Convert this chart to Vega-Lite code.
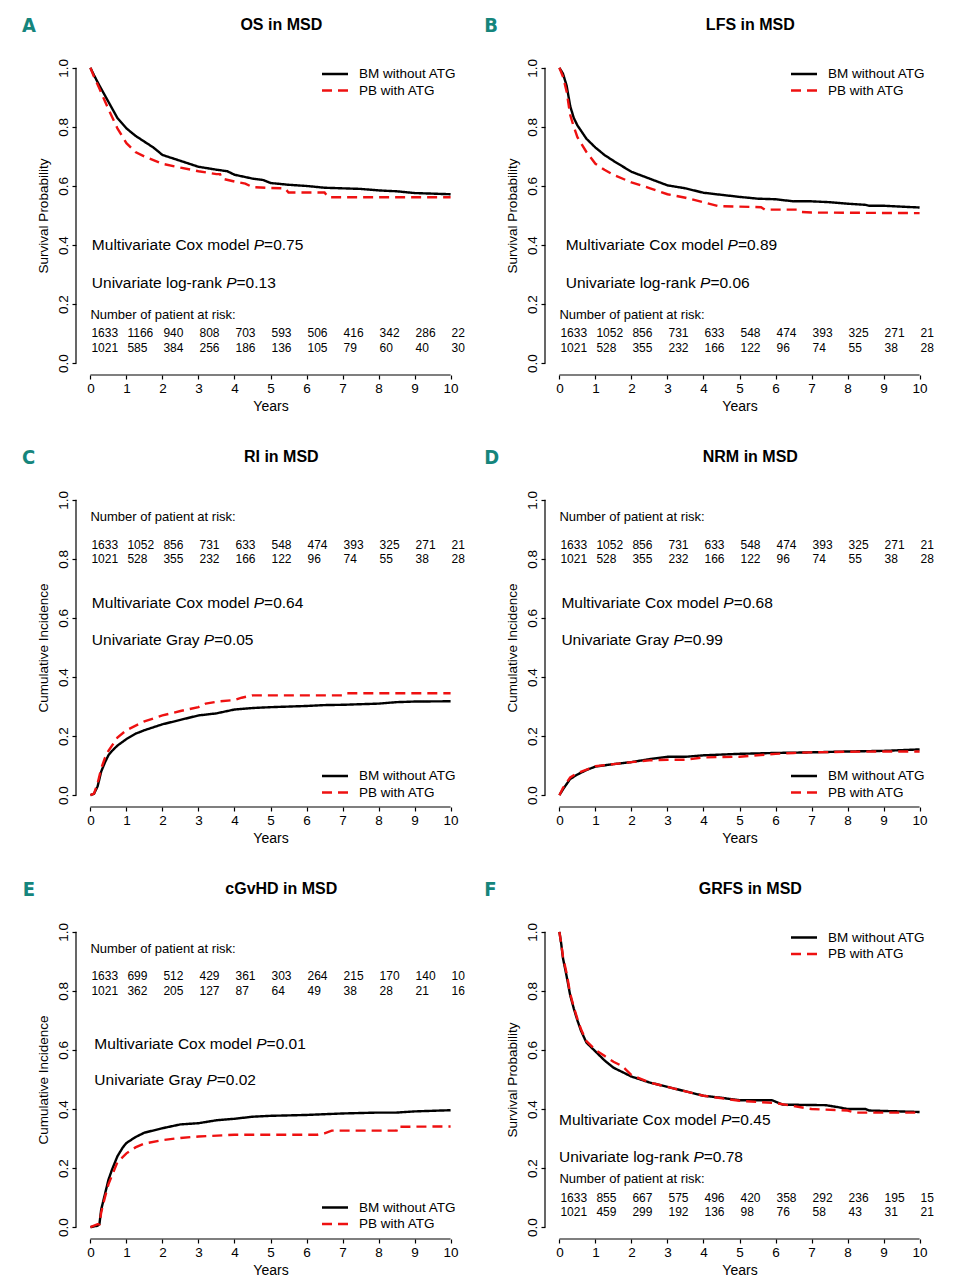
{
"$schema": "https://vega.github.io/schema/vega-lite/v6.json",
"padding": {"left": 22, "top": 16, "right": 5, "bottom": 5},
"background": "white",
"data": {"values": [{}]},
"datasets": {
"curves": [
{"panel":"A","group":"BM without ATG","t":0,"v":1},{"panel":"A","group":"BM without ATG","t":0.1,"v":0.975},{"panel":"A","group":"BM without ATG","t":0.25,"v":0.94},{"panel":"A","group":"BM without ATG","t":0.5,"v":0.885},{"panel":"A","group":"BM without ATG","t":0.75,"v":0.83},{"panel":"A","group":"BM without ATG","t":1,"v":0.795},{"panel":"A","group":"BM without ATG","t":1.25,"v":0.77},{"panel":"A","group":"BM without ATG","t":1.5,"v":0.75},{"panel":"A","group":"BM without ATG","t":1.75,"v":0.73},{"panel":"A","group":"BM without ATG","t":2,"v":0.705},{"panel":"A","group":"BM without ATG","t":2.5,"v":0.685},{"panel":"A","group":"BM without ATG","t":3,"v":0.665},{"panel":"A","group":"BM without ATG","t":3.5,"v":0.655},{"panel":"A","group":"BM without ATG","t":3.8,"v":0.65},{"panel":"A","group":"BM without ATG","t":4,"v":0.638},{"panel":"A","group":"BM without ATG","t":4.5,"v":0.625},{"panel":"A","group":"BM without ATG","t":4.8,"v":0.62},{"panel":"A","group":"BM without ATG","t":5,"v":0.61},{"panel":"A","group":"BM without ATG","t":5.5,"v":0.604},{"panel":"A","group":"BM without ATG","t":6,"v":0.6},{"panel":"A","group":"BM without ATG","t":6.5,"v":0.594},{"panel":"A","group":"BM without ATG","t":7,"v":0.592},{"panel":"A","group":"BM without ATG","t":7.5,"v":0.59},{"panel":"A","group":"BM without ATG","t":8,"v":0.585},{"panel":"A","group":"BM without ATG","t":8.5,"v":0.582},{"panel":"A","group":"BM without ATG","t":9,"v":0.576},{"panel":"A","group":"BM without ATG","t":9.5,"v":0.574},{"panel":"A","group":"BM without ATG","t":10,"v":0.572},
{"panel":"A","group":"PB with ATG","t":0,"v":1},{"panel":"A","group":"PB with ATG","t":0.1,"v":0.97},{"panel":"A","group":"PB with ATG","t":0.25,"v":0.93},{"panel":"A","group":"PB with ATG","t":0.5,"v":0.86},{"panel":"A","group":"PB with ATG","t":0.75,"v":0.795},{"panel":"A","group":"PB with ATG","t":1,"v":0.745},{"panel":"A","group":"PB with ATG","t":1.25,"v":0.715},{"panel":"A","group":"PB with ATG","t":1.5,"v":0.7},{"panel":"A","group":"PB with ATG","t":2,"v":0.675},{"panel":"A","group":"PB with ATG","t":2.5,"v":0.662},{"panel":"A","group":"PB with ATG","t":3,"v":0.65},{"panel":"A","group":"PB with ATG","t":3.5,"v":0.64},{"panel":"A","group":"PB with ATG","t":3.6,"v":0.64},{"panel":"A","group":"PB with ATG","t":3.65,"v":0.625},{"panel":"A","group":"PB with ATG","t":4,"v":0.615},{"panel":"A","group":"PB with ATG","t":4.3,"v":0.608},{"panel":"A","group":"PB with ATG","t":4.5,"v":0.596},{"panel":"A","group":"PB with ATG","t":5,"v":0.593},{"panel":"A","group":"PB with ATG","t":5.4,"v":0.592},{"panel":"A","group":"PB with ATG","t":5.5,"v":0.578},{"panel":"A","group":"PB with ATG","t":6.5,"v":0.578},{"panel":"A","group":"PB with ATG","t":6.6,"v":0.562},{"panel":"A","group":"PB with ATG","t":10,"v":0.562},
{"panel":"B","group":"BM without ATG","t":0,"v":1},{"panel":"B","group":"BM without ATG","t":0.1,"v":0.98},{"panel":"B","group":"BM without ATG","t":0.2,"v":0.94},{"panel":"B","group":"BM without ATG","t":0.3,"v":0.87},{"panel":"B","group":"BM without ATG","t":0.4,"v":0.83},{"panel":"B","group":"BM without ATG","t":0.5,"v":0.805},{"panel":"B","group":"BM without ATG","t":0.75,"v":0.76},{"panel":"B","group":"BM without ATG","t":1,"v":0.73},{"panel":"B","group":"BM without ATG","t":1.25,"v":0.705},{"panel":"B","group":"BM without ATG","t":1.5,"v":0.685},{"panel":"B","group":"BM without ATG","t":2,"v":0.648},{"panel":"B","group":"BM without ATG","t":2.5,"v":0.625},{"panel":"B","group":"BM without ATG","t":3,"v":0.602},{"panel":"B","group":"BM without ATG","t":3.5,"v":0.592},{"panel":"B","group":"BM without ATG","t":4,"v":0.577},{"panel":"B","group":"BM without ATG","t":4.5,"v":0.57},{"panel":"B","group":"BM without ATG","t":5,"v":0.563},{"panel":"B","group":"BM without ATG","t":5.5,"v":0.557},{"panel":"B","group":"BM without ATG","t":6,"v":0.555},{"panel":"B","group":"BM without ATG","t":6.5,"v":0.548},{"panel":"B","group":"BM without ATG","t":7,"v":0.548},{"panel":"B","group":"BM without ATG","t":7.5,"v":0.545},{"panel":"B","group":"BM without ATG","t":8,"v":0.54},{"panel":"B","group":"BM without ATG","t":8.5,"v":0.536},{"panel":"B","group":"BM without ATG","t":8.6,"v":0.533},{"panel":"B","group":"BM without ATG","t":9,"v":0.533},{"panel":"B","group":"BM without ATG","t":9.5,"v":0.53},{"panel":"B","group":"BM without ATG","t":10,"v":0.527},
{"panel":"B","group":"PB with ATG","t":0,"v":1},{"panel":"B","group":"PB with ATG","t":0.1,"v":0.97},{"panel":"B","group":"PB with ATG","t":0.2,"v":0.92},{"panel":"B","group":"PB with ATG","t":0.3,"v":0.84},{"panel":"B","group":"PB with ATG","t":0.4,"v":0.8},{"panel":"B","group":"PB with ATG","t":0.5,"v":0.765},{"panel":"B","group":"PB with ATG","t":0.75,"v":0.715},{"panel":"B","group":"PB with ATG","t":1,"v":0.675},{"panel":"B","group":"PB with ATG","t":1.25,"v":0.655},{"panel":"B","group":"PB with ATG","t":1.5,"v":0.638},{"panel":"B","group":"PB with ATG","t":2,"v":0.612},{"panel":"B","group":"PB with ATG","t":2.5,"v":0.593},{"panel":"B","group":"PB with ATG","t":3,"v":0.572},{"panel":"B","group":"PB with ATG","t":3.5,"v":0.56},{"panel":"B","group":"PB with ATG","t":4,"v":0.545},{"panel":"B","group":"PB with ATG","t":4.4,"v":0.532},{"panel":"B","group":"PB with ATG","t":5,"v":0.53},{"panel":"B","group":"PB with ATG","t":5.6,"v":0.528},{"panel":"B","group":"PB with ATG","t":5.7,"v":0.52},{"panel":"B","group":"PB with ATG","t":6.6,"v":0.52},{"panel":"B","group":"PB with ATG","t":6.7,"v":0.512},{"panel":"B","group":"PB with ATG","t":7,"v":0.51},{"panel":"B","group":"PB with ATG","t":10,"v":0.508},
{"panel":"C","group":"BM without ATG","t":0,"v":0},{"panel":"C","group":"BM without ATG","t":0.1,"v":0.005},{"panel":"C","group":"BM without ATG","t":0.2,"v":0.03},{"panel":"C","group":"BM without ATG","t":0.3,"v":0.08},{"panel":"C","group":"BM without ATG","t":0.4,"v":0.11},{"panel":"C","group":"BM without ATG","t":0.5,"v":0.135},{"panel":"C","group":"BM without ATG","t":0.6,"v":0.15},{"panel":"C","group":"BM without ATG","t":0.75,"v":0.168},{"panel":"C","group":"BM without ATG","t":1,"v":0.19},{"panel":"C","group":"BM without ATG","t":1.25,"v":0.208},{"panel":"C","group":"BM without ATG","t":1.5,"v":0.22},{"panel":"C","group":"BM without ATG","t":2,"v":0.24},{"panel":"C","group":"BM without ATG","t":2.5,"v":0.255},{"panel":"C","group":"BM without ATG","t":3,"v":0.27},{"panel":"C","group":"BM without ATG","t":3.5,"v":0.277},{"panel":"C","group":"BM without ATG","t":4,"v":0.29},{"panel":"C","group":"BM without ATG","t":4.5,"v":0.295},{"panel":"C","group":"BM without ATG","t":5,"v":0.298},{"panel":"C","group":"BM without ATG","t":6,"v":0.302},{"panel":"C","group":"BM without ATG","t":6.5,"v":0.305},{"panel":"C","group":"BM without ATG","t":7,"v":0.306},{"panel":"C","group":"BM without ATG","t":8,"v":0.31},{"panel":"C","group":"BM without ATG","t":8.5,"v":0.315},{"panel":"C","group":"BM without ATG","t":9,"v":0.317},{"panel":"C","group":"BM without ATG","t":10,"v":0.318},
{"panel":"C","group":"PB with ATG","t":0,"v":0},{"panel":"C","group":"PB with ATG","t":0.1,"v":0.005},{"panel":"C","group":"PB with ATG","t":0.2,"v":0.04},{"panel":"C","group":"PB with ATG","t":0.3,"v":0.09},{"panel":"C","group":"PB with ATG","t":0.4,"v":0.125},{"panel":"C","group":"PB with ATG","t":0.5,"v":0.15},{"panel":"C","group":"PB with ATG","t":0.75,"v":0.195},{"panel":"C","group":"PB with ATG","t":1,"v":0.22},{"panel":"C","group":"PB with ATG","t":1.5,"v":0.25},{"panel":"C","group":"PB with ATG","t":2,"v":0.27},{"panel":"C","group":"PB with ATG","t":2.5,"v":0.285},{"panel":"C","group":"PB with ATG","t":3,"v":0.298},{"panel":"C","group":"PB with ATG","t":3.2,"v":0.31},{"panel":"C","group":"PB with ATG","t":3.6,"v":0.318},{"panel":"C","group":"PB with ATG","t":4,"v":0.322},{"panel":"C","group":"PB with ATG","t":4.2,"v":0.33},{"panel":"C","group":"PB with ATG","t":4.5,"v":0.338},{"panel":"C","group":"PB with ATG","t":7,"v":0.338},{"panel":"C","group":"PB with ATG","t":7.1,"v":0.345},{"panel":"C","group":"PB with ATG","t":10,"v":0.345},
{"panel":"D","group":"BM without ATG","t":0,"v":0},{"panel":"D","group":"BM without ATG","t":0.1,"v":0.02},{"panel":"D","group":"BM without ATG","t":0.3,"v":0.055},{"panel":"D","group":"BM without ATG","t":0.5,"v":0.07},{"panel":"D","group":"BM without ATG","t":0.75,"v":0.085},{"panel":"D","group":"BM without ATG","t":1,"v":0.097},{"panel":"D","group":"BM without ATG","t":1.5,"v":0.105},{"panel":"D","group":"BM without ATG","t":2,"v":0.112},{"panel":"D","group":"BM without ATG","t":2.5,"v":0.122},{"panel":"D","group":"BM without ATG","t":3,"v":0.13},{"panel":"D","group":"BM without ATG","t":3.5,"v":0.13},{"panel":"D","group":"BM without ATG","t":4,"v":0.135},{"panel":"D","group":"BM without ATG","t":5,"v":0.14},{"panel":"D","group":"BM without ATG","t":6,"v":0.143},{"panel":"D","group":"BM without ATG","t":7,"v":0.145},{"panel":"D","group":"BM without ATG","t":8,"v":0.148},{"panel":"D","group":"BM without ATG","t":9,"v":0.15},{"panel":"D","group":"BM without ATG","t":10,"v":0.155},
{"panel":"D","group":"PB with ATG","t":0,"v":0},{"panel":"D","group":"PB with ATG","t":0.1,"v":0.025},{"panel":"D","group":"PB with ATG","t":0.3,"v":0.06},{"panel":"D","group":"PB with ATG","t":0.5,"v":0.075},{"panel":"D","group":"PB with ATG","t":1,"v":0.098},{"panel":"D","group":"PB with ATG","t":1.5,"v":0.105},{"panel":"D","group":"PB with ATG","t":2,"v":0.112},{"panel":"D","group":"PB with ATG","t":2.5,"v":0.118},{"panel":"D","group":"PB with ATG","t":3,"v":0.12},{"panel":"D","group":"PB with ATG","t":3.5,"v":0.12},{"panel":"D","group":"PB with ATG","t":4,"v":0.128},{"panel":"D","group":"PB with ATG","t":5,"v":0.13},{"panel":"D","group":"PB with ATG","t":5.5,"v":0.135},{"panel":"D","group":"PB with ATG","t":6,"v":0.14},{"panel":"D","group":"PB with ATG","t":6.5,"v":0.143},{"panel":"D","group":"PB with ATG","t":7,"v":0.145},{"panel":"D","group":"PB with ATG","t":8,"v":0.147},{"panel":"D","group":"PB with ATG","t":9,"v":0.148},{"panel":"D","group":"PB with ATG","t":10,"v":0.148},
{"panel":"E","group":"BM without ATG","t":0,"v":0},{"panel":"E","group":"BM without ATG","t":0.2,"v":0.005},{"panel":"E","group":"BM without ATG","t":0.25,"v":0.01},{"panel":"E","group":"BM without ATG","t":0.3,"v":0.06},{"panel":"E","group":"BM without ATG","t":0.4,"v":0.11},{"panel":"E","group":"BM without ATG","t":0.5,"v":0.16},{"panel":"E","group":"BM without ATG","t":0.6,"v":0.195},{"panel":"E","group":"BM without ATG","t":0.75,"v":0.24},{"panel":"E","group":"BM without ATG","t":0.9,"v":0.27},{"panel":"E","group":"BM without ATG","t":1,"v":0.285},{"panel":"E","group":"BM without ATG","t":1.25,"v":0.305},{"panel":"E","group":"BM without ATG","t":1.5,"v":0.32},{"panel":"E","group":"BM without ATG","t":2,"v":0.335},{"panel":"E","group":"BM without ATG","t":2.5,"v":0.348},{"panel":"E","group":"BM without ATG","t":3,"v":0.352},{"panel":"E","group":"BM without ATG","t":3.5,"v":0.362},{"panel":"E","group":"BM without ATG","t":4,"v":0.367},{"panel":"E","group":"BM without ATG","t":4.5,"v":0.374},{"panel":"E","group":"BM without ATG","t":5,"v":0.377},{"panel":"E","group":"BM without ATG","t":6,"v":0.38},{"panel":"E","group":"BM without ATG","t":7,"v":0.385},{"panel":"E","group":"BM without ATG","t":8,"v":0.388},{"panel":"E","group":"BM without ATG","t":8.5,"v":0.388},{"panel":"E","group":"BM without ATG","t":9,"v":0.392},{"panel":"E","group":"BM without ATG","t":10,"v":0.396},
{"panel":"E","group":"PB with ATG","t":0,"v":0},{"panel":"E","group":"PB with ATG","t":0.2,"v":0.01},{"panel":"E","group":"PB with ATG","t":0.25,"v":0.01},{"panel":"E","group":"PB with ATG","t":0.3,"v":0.05},{"panel":"E","group":"PB with ATG","t":0.4,"v":0.1},{"panel":"E","group":"PB with ATG","t":0.5,"v":0.145},{"panel":"E","group":"PB with ATG","t":0.75,"v":0.22},{"panel":"E","group":"PB with ATG","t":1,"v":0.25},{"panel":"E","group":"PB with ATG","t":1.25,"v":0.27},{"panel":"E","group":"PB with ATG","t":1.5,"v":0.283},{"panel":"E","group":"PB with ATG","t":2,"v":0.295},{"panel":"E","group":"PB with ATG","t":2.5,"v":0.302},{"panel":"E","group":"PB with ATG","t":3,"v":0.307},{"panel":"E","group":"PB with ATG","t":4,"v":0.313},{"panel":"E","group":"PB with ATG","t":5,"v":0.313},{"panel":"E","group":"PB with ATG","t":6.3,"v":0.313},{"panel":"E","group":"PB with ATG","t":6.5,"v":0.318},{"panel":"E","group":"PB with ATG","t":6.7,"v":0.327},{"panel":"E","group":"PB with ATG","t":8.5,"v":0.327},{"panel":"E","group":"PB with ATG","t":8.52,"v":0.34},{"panel":"E","group":"PB with ATG","t":10,"v":0.341},
{"panel":"F","group":"BM without ATG","t":0,"v":1},{"panel":"F","group":"BM without ATG","t":0.05,"v":0.96},{"panel":"F","group":"BM without ATG","t":0.1,"v":0.91},{"panel":"F","group":"BM without ATG","t":0.2,"v":0.85},{"panel":"F","group":"BM without ATG","t":0.3,"v":0.785},{"panel":"F","group":"BM without ATG","t":0.4,"v":0.74},{"panel":"F","group":"BM without ATG","t":0.5,"v":0.7},{"panel":"F","group":"BM without ATG","t":0.6,"v":0.665},{"panel":"F","group":"BM without ATG","t":0.75,"v":0.625},{"panel":"F","group":"BM without ATG","t":1,"v":0.595},{"panel":"F","group":"BM without ATG","t":1.25,"v":0.565},{"panel":"F","group":"BM without ATG","t":1.5,"v":0.54},{"panel":"F","group":"BM without ATG","t":2,"v":0.51},{"panel":"F","group":"BM without ATG","t":2.5,"v":0.49},{"panel":"F","group":"BM without ATG","t":3,"v":0.475},{"panel":"F","group":"BM without ATG","t":3.5,"v":0.46},{"panel":"F","group":"BM without ATG","t":4,"v":0.445},{"panel":"F","group":"BM without ATG","t":4.5,"v":0.438},{"panel":"F","group":"BM without ATG","t":5,"v":0.43},{"panel":"F","group":"BM without ATG","t":5.9,"v":0.43},{"panel":"F","group":"BM without ATG","t":6.2,"v":0.415},{"panel":"F","group":"BM without ATG","t":7.4,"v":0.413},{"panel":"F","group":"BM without ATG","t":7.8,"v":0.405},{"panel":"F","group":"BM without ATG","t":8,"v":0.4},{"panel":"F","group":"BM without ATG","t":8.5,"v":0.4},{"panel":"F","group":"BM without ATG","t":8.6,"v":0.395},{"panel":"F","group":"BM without ATG","t":10,"v":0.39},
{"panel":"F","group":"PB with ATG","t":0,"v":1},{"panel":"F","group":"PB with ATG","t":0.05,"v":0.96},{"panel":"F","group":"PB with ATG","t":0.1,"v":0.915},{"panel":"F","group":"PB with ATG","t":0.2,"v":0.86},{"panel":"F","group":"PB with ATG","t":0.3,"v":0.79},{"panel":"F","group":"PB with ATG","t":0.4,"v":0.745},{"panel":"F","group":"PB with ATG","t":0.5,"v":0.705},{"panel":"F","group":"PB with ATG","t":0.6,"v":0.67},{"panel":"F","group":"PB with ATG","t":0.75,"v":0.63},{"panel":"F","group":"PB with ATG","t":1,"v":0.6},{"panel":"F","group":"PB with ATG","t":1.25,"v":0.58},{"panel":"F","group":"PB with ATG","t":1.5,"v":0.56},{"panel":"F","group":"PB with ATG","t":1.75,"v":0.545},{"panel":"F","group":"PB with ATG","t":2,"v":0.515},{"panel":"F","group":"PB with ATG","t":2.5,"v":0.49},{"panel":"F","group":"PB with ATG","t":3,"v":0.475},{"panel":"F","group":"PB with ATG","t":3.5,"v":0.46},{"panel":"F","group":"PB with ATG","t":4,"v":0.445},{"panel":"F","group":"PB with ATG","t":5,"v":0.428},{"panel":"F","group":"PB with ATG","t":6,"v":0.42},{"panel":"F","group":"PB with ATG","t":6.5,"v":0.41},{"panel":"F","group":"PB with ATG","t":7,"v":0.4},{"panel":"F","group":"PB with ATG","t":8,"v":0.395},{"panel":"F","group":"PB with ATG","t":8.2,"v":0.388},{"panel":"F","group":"PB with ATG","t":10,"v":0.388}
],
"notes": [
{"panel":"A","kind":"title","x":5.3,"y":1.146,"text":"OS in MSD"},
{"panel":"A","kind":"letter","x":-1.897,"y":1.14,"text":"A"},
{"panel":"A","kind":"note","x":0.04,"y":0.4,"text":"Multivariate Cox model"},
{"panel":"A","kind":"p","x":4.535,"y":0.4,"text":"P"},
{"panel":"A","kind":"note","x":4.822,"y":0.4,"text":"=0.75"},
{"panel":"A","kind":"note","x":0.04,"y":0.273,"text":"Univariate log-rank"},
{"panel":"A","kind":"p","x":3.771,"y":0.273,"text":"P"},
{"panel":"A","kind":"note","x":4.058,"y":0.273,"text":"=0.13"},
{"panel":"A","kind":"head","x":0,"y":0.164,"text":"Number of patient at risk:"},
{"panel":"B","kind":"title","x":5.3,"y":1.146,"text":"LFS in MSD"},
{"panel":"B","kind":"letter","x":-2.09,"y":1.14,"text":"B"},
{"panel":"B","kind":"note","x":0.175,"y":0.399,"text":"Multivariate Cox model"},
{"panel":"B","kind":"p","x":4.67,"y":0.399,"text":"P"},
{"panel":"B","kind":"note","x":4.957,"y":0.399,"text":"=0.89"},
{"panel":"B","kind":"note","x":0.175,"y":0.273,"text":"Univariate log-rank"},
{"panel":"B","kind":"p","x":3.906,"y":0.273,"text":"P"},
{"panel":"B","kind":"note","x":4.193,"y":0.273,"text":"=0.06"},
{"panel":"B","kind":"head","x":0,"y":0.164,"text":"Number of patient at risk:"},
{"panel":"C","kind":"title","x":5.3,"y":1.146,"text":"RI in MSD"},
{"panel":"C","kind":"letter","x":-1.897,"y":1.14,"text":"C"},
{"panel":"C","kind":"note","x":0.04,"y":0.65,"text":"Multivariate Cox model"},
{"panel":"C","kind":"p","x":4.535,"y":0.65,"text":"P"},
{"panel":"C","kind":"note","x":4.822,"y":0.65,"text":"=0.64"},
{"panel":"C","kind":"note","x":0.04,"y":0.525,"text":"Univariate Gray"},
{"panel":"C","kind":"p","x":3.15,"y":0.525,"text":"P"},
{"panel":"C","kind":"note","x":3.437,"y":0.525,"text":"=0.05"},
{"panel":"C","kind":"head","x":0,"y":0.943,"text":"Number of patient at risk:"},
{"panel":"D","kind":"title","x":5.3,"y":1.146,"text":"NRM in MSD"},
{"panel":"D","kind":"letter","x":-2.09,"y":1.14,"text":"D"},
{"panel":"D","kind":"note","x":0.055,"y":0.65,"text":"Multivariate Cox model"},
{"panel":"D","kind":"p","x":4.55,"y":0.65,"text":"P"},
{"panel":"D","kind":"note","x":4.837,"y":0.65,"text":"=0.68"},
{"panel":"D","kind":"note","x":0.055,"y":0.525,"text":"Univariate Gray"},
{"panel":"D","kind":"p","x":3.165,"y":0.525,"text":"P"},
{"panel":"D","kind":"note","x":3.452,"y":0.525,"text":"=0.99"},
{"panel":"D","kind":"head","x":0,"y":0.943,"text":"Number of patient at risk:"},
{"panel":"E","kind":"title","x":5.3,"y":1.146,"text":"cGvHD in MSD"},
{"panel":"E","kind":"letter","x":-1.88,"y":1.14,"text":"E"},
{"panel":"E","kind":"note","x":0.11,"y":0.621,"text":"Multivariate Cox model"},
{"panel":"E","kind":"p","x":4.605,"y":0.621,"text":"P"},
{"panel":"E","kind":"note","x":4.892,"y":0.621,"text":"=0.01"},
{"panel":"E","kind":"note","x":0.11,"y":0.497,"text":"Univariate Gray"},
{"panel":"E","kind":"p","x":3.22,"y":0.497,"text":"P"},
{"panel":"E","kind":"note","x":3.507,"y":0.497,"text":"=0.02"},
{"panel":"E","kind":"head","x":0,"y":0.942,"text":"Number of patient at risk:"},
{"panel":"F","kind":"title","x":5.3,"y":1.146,"text":"GRFS in MSD"},
{"panel":"F","kind":"letter","x":-2.09,"y":1.14,"text":"F"},
{"panel":"F","kind":"note","x":-0.01,"y":0.364,"text":"Multivariate Cox model"},
{"panel":"F","kind":"p","x":4.485,"y":0.364,"text":"P"},
{"panel":"F","kind":"note","x":4.772,"y":0.364,"text":"=0.45"},
{"panel":"F","kind":"note","x":-0.01,"y":0.237,"text":"Univariate log-rank"},
{"panel":"F","kind":"p","x":3.721,"y":0.237,"text":"P"},
{"panel":"F","kind":"note","x":4.008,"y":0.237,"text":"=0.78"},
{"panel":"F","kind":"head","x":0,"y":0.163,"text":"Number of patient at risk:"}
],
"risk": [
{"panel":"A","t":0,"y":0.102,"n":"1633"},{"panel":"A","t":1,"y":0.102,"n":"1166"},{"panel":"A","t":2,"y":0.102,"n":"940"},{"panel":"A","t":3,"y":0.102,"n":"808"},{"panel":"A","t":4,"y":0.102,"n":"703"},{"panel":"A","t":5,"y":0.102,"n":"593"},{"panel":"A","t":6,"y":0.102,"n":"506"},{"panel":"A","t":7,"y":0.102,"n":"416"},{"panel":"A","t":8,"y":0.102,"n":"342"},{"panel":"A","t":9,"y":0.102,"n":"286"},{"panel":"A","t":10,"y":0.102,"n":"22"},
{"panel":"A","t":0,"y":0.051,"n":"1021"},{"panel":"A","t":1,"y":0.051,"n":"585"},{"panel":"A","t":2,"y":0.051,"n":"384"},{"panel":"A","t":3,"y":0.051,"n":"256"},{"panel":"A","t":4,"y":0.051,"n":"186"},{"panel":"A","t":5,"y":0.051,"n":"136"},{"panel":"A","t":6,"y":0.051,"n":"105"},{"panel":"A","t":7,"y":0.051,"n":"79"},{"panel":"A","t":8,"y":0.051,"n":"60"},{"panel":"A","t":9,"y":0.051,"n":"40"},{"panel":"A","t":10,"y":0.051,"n":"30"},
{"panel":"B","t":0,"y":0.102,"n":"1633"},{"panel":"B","t":1,"y":0.102,"n":"1052"},{"panel":"B","t":2,"y":0.102,"n":"856"},{"panel":"B","t":3,"y":0.102,"n":"731"},{"panel":"B","t":4,"y":0.102,"n":"633"},{"panel":"B","t":5,"y":0.102,"n":"548"},{"panel":"B","t":6,"y":0.102,"n":"474"},{"panel":"B","t":7,"y":0.102,"n":"393"},{"panel":"B","t":8,"y":0.102,"n":"325"},{"panel":"B","t":9,"y":0.102,"n":"271"},{"panel":"B","t":10,"y":0.102,"n":"21"},
{"panel":"B","t":0,"y":0.051,"n":"1021"},{"panel":"B","t":1,"y":0.051,"n":"528"},{"panel":"B","t":2,"y":0.051,"n":"355"},{"panel":"B","t":3,"y":0.051,"n":"232"},{"panel":"B","t":4,"y":0.051,"n":"166"},{"panel":"B","t":5,"y":0.051,"n":"122"},{"panel":"B","t":6,"y":0.051,"n":"96"},{"panel":"B","t":7,"y":0.051,"n":"74"},{"panel":"B","t":8,"y":0.051,"n":"55"},{"panel":"B","t":9,"y":0.051,"n":"38"},{"panel":"B","t":10,"y":0.051,"n":"28"},
{"panel":"C","t":0,"y":0.847,"n":"1633"},{"panel":"C","t":1,"y":0.847,"n":"1052"},{"panel":"C","t":2,"y":0.847,"n":"856"},{"panel":"C","t":3,"y":0.847,"n":"731"},{"panel":"C","t":4,"y":0.847,"n":"633"},{"panel":"C","t":5,"y":0.847,"n":"548"},{"panel":"C","t":6,"y":0.847,"n":"474"},{"panel":"C","t":7,"y":0.847,"n":"393"},{"panel":"C","t":8,"y":0.847,"n":"325"},{"panel":"C","t":9,"y":0.847,"n":"271"},{"panel":"C","t":10,"y":0.847,"n":"21"},
{"panel":"C","t":0,"y":0.799,"n":"1021"},{"panel":"C","t":1,"y":0.799,"n":"528"},{"panel":"C","t":2,"y":0.799,"n":"355"},{"panel":"C","t":3,"y":0.799,"n":"232"},{"panel":"C","t":4,"y":0.799,"n":"166"},{"panel":"C","t":5,"y":0.799,"n":"122"},{"panel":"C","t":6,"y":0.799,"n":"96"},{"panel":"C","t":7,"y":0.799,"n":"74"},{"panel":"C","t":8,"y":0.799,"n":"55"},{"panel":"C","t":9,"y":0.799,"n":"38"},{"panel":"C","t":10,"y":0.799,"n":"28"},
{"panel":"D","t":0,"y":0.847,"n":"1633"},{"panel":"D","t":1,"y":0.847,"n":"1052"},{"panel":"D","t":2,"y":0.847,"n":"856"},{"panel":"D","t":3,"y":0.847,"n":"731"},{"panel":"D","t":4,"y":0.847,"n":"633"},{"panel":"D","t":5,"y":0.847,"n":"548"},{"panel":"D","t":6,"y":0.847,"n":"474"},{"panel":"D","t":7,"y":0.847,"n":"393"},{"panel":"D","t":8,"y":0.847,"n":"325"},{"panel":"D","t":9,"y":0.847,"n":"271"},{"panel":"D","t":10,"y":0.847,"n":"21"},
{"panel":"D","t":0,"y":0.799,"n":"1021"},{"panel":"D","t":1,"y":0.799,"n":"528"},{"panel":"D","t":2,"y":0.799,"n":"355"},{"panel":"D","t":3,"y":0.799,"n":"232"},{"panel":"D","t":4,"y":0.799,"n":"166"},{"panel":"D","t":5,"y":0.799,"n":"122"},{"panel":"D","t":6,"y":0.799,"n":"96"},{"panel":"D","t":7,"y":0.799,"n":"74"},{"panel":"D","t":8,"y":0.799,"n":"55"},{"panel":"D","t":9,"y":0.799,"n":"38"},{"panel":"D","t":10,"y":0.799,"n":"28"},
{"panel":"E","t":0,"y":0.85,"n":"1633"},{"panel":"E","t":1,"y":0.85,"n":"699"},{"panel":"E","t":2,"y":0.85,"n":"512"},{"panel":"E","t":3,"y":0.85,"n":"429"},{"panel":"E","t":4,"y":0.85,"n":"361"},{"panel":"E","t":5,"y":0.85,"n":"303"},{"panel":"E","t":6,"y":0.85,"n":"264"},{"panel":"E","t":7,"y":0.85,"n":"215"},{"panel":"E","t":8,"y":0.85,"n":"170"},{"panel":"E","t":9,"y":0.85,"n":"140"},{"panel":"E","t":10,"y":0.85,"n":"10"},
{"panel":"E","t":0,"y":0.799,"n":"1021"},{"panel":"E","t":1,"y":0.799,"n":"362"},{"panel":"E","t":2,"y":0.799,"n":"205"},{"panel":"E","t":3,"y":0.799,"n":"127"},{"panel":"E","t":4,"y":0.799,"n":"87"},{"panel":"E","t":5,"y":0.799,"n":"64"},{"panel":"E","t":6,"y":0.799,"n":"49"},{"panel":"E","t":7,"y":0.799,"n":"38"},{"panel":"E","t":8,"y":0.799,"n":"28"},{"panel":"E","t":9,"y":0.799,"n":"21"},{"panel":"E","t":10,"y":0.799,"n":"16"},
{"panel":"F","t":0,"y":0.098,"n":"1633"},{"panel":"F","t":1,"y":0.098,"n":"855"},{"panel":"F","t":2,"y":0.098,"n":"667"},{"panel":"F","t":3,"y":0.098,"n":"575"},{"panel":"F","t":4,"y":0.098,"n":"496"},{"panel":"F","t":5,"y":0.098,"n":"420"},{"panel":"F","t":6,"y":0.098,"n":"358"},{"panel":"F","t":7,"y":0.098,"n":"292"},{"panel":"F","t":8,"y":0.098,"n":"236"},{"panel":"F","t":9,"y":0.098,"n":"195"},{"panel":"F","t":10,"y":0.098,"n":"15"},
{"panel":"F","t":0,"y":0.05,"n":"1021"},{"panel":"F","t":1,"y":0.05,"n":"459"},{"panel":"F","t":2,"y":0.05,"n":"299"},{"panel":"F","t":3,"y":0.05,"n":"192"},{"panel":"F","t":4,"y":0.05,"n":"136"},{"panel":"F","t":5,"y":0.05,"n":"98"},{"panel":"F","t":6,"y":0.05,"n":"76"},{"panel":"F","t":7,"y":0.05,"n":"58"},{"panel":"F","t":8,"y":0.05,"n":"43"},{"panel":"F","t":9,"y":0.05,"n":"31"},{"panel":"F","t":10,"y":0.05,"n":"21"}
]
},
"columns": 2,
"spacing": {"row": 113, "column": 80},
"bounds": "flush",
"resolve": {"scale": {"color": "independent", "strokeDash": "independent"}},
"concat": [
{"width": 389, "height": 319, "layer": [
 {"data": {"name": "curves"}, "transform": [{"filter": "datum.panel === 'A'"}], "mark": {"type": "line", "strokeWidth": 2.4},
  "encoding": {"x": {"field": "t", "type": "quantitative", "scale": {"domain": [-0.4, 10.4], "nice": false, "zero": false}, "axis": {"values": [0,1,2,3,4,5,6,7,8,9,10], "tickCount": 30, "format": "d", "labelOverlap": false, "title": "Years"}},
   "y": {"field": "v", "type": "quantitative", "scale": {"domain": [-0.04, 1.04], "nice": false, "zero": false}, "axis": {"values": [0,0.2,0.4,0.6,0.8,1], "tickCount": 30, "labelOverlap": false, "format": ".1f", "title": "Survival Probability"}},
   "color": {"field": "group", "type": "nominal", "scale": {"domain": ["BM without ATG", "PB with ATG"], "range": ["#000000", "#ee1111"]}, "legend": {"orient": "none", "legendX": 246, "legendY": 10, "title": null}},
   "strokeDash": {"field": "group", "type": "nominal", "scale": {"domain": ["BM without ATG", "PB with ATG"], "range": [[1, 0], [10, 6]]}, "legend": {"orient": "none", "legendX": 246, "legendY": 10, "title": null}}}},
 {"mark": {"type": "rule", "strokeWidth": 1.2, "color": "#000000"}, "encoding": {"x": {"datum": 0, "type": "quantitative"}, "x2": {"datum": 10}, "y": {"datum": -0.04, "type": "quantitative"}}},
 {"mark": {"type": "rule", "strokeWidth": 1.2, "color": "#000000"}, "encoding": {"x": {"datum": -0.4, "type": "quantitative"}, "y": {"datum": 0, "type": "quantitative"}, "y2": {"datum": 1}}},
 {"data": {"name": "notes"}, "transform": [{"filter": "datum.panel === 'A' && datum.kind === 'title'"}], "mark": {"type": "text", "align": "center", "baseline": "middle", "fontSize": 16, "fontWeight": "bold"}, "encoding": {"x": {"field": "x", "type": "quantitative"}, "y": {"field": "y", "type": "quantitative"}, "text": {"field": "text"}}},
 {"data": {"name": "notes"}, "transform": [{"filter": "datum.panel === 'A' && datum.kind === 'letter'"}], "mark": {"type": "text", "align": "left", "baseline": "middle", "fontSize": 20, "fontWeight": "bold", "font": "Liberation Sans Narrow, DejaVu Sans Condensed, Liberation Sans", "color": "#15857c"}, "encoding": {"x": {"field": "x", "type": "quantitative"}, "y": {"field": "y", "type": "quantitative"}, "text": {"field": "text"}}},
 {"data": {"name": "notes"}, "transform": [{"filter": "datum.panel === 'A' && datum.kind === 'note'"}], "mark": {"type": "text", "align": "left", "baseline": "middle", "fontSize": 15.5}, "encoding": {"x": {"field": "x", "type": "quantitative"}, "y": {"field": "y", "type": "quantitative"}, "text": {"field": "text"}}},
 {"data": {"name": "notes"}, "transform": [{"filter": "datum.panel === 'A' && datum.kind === 'p'"}], "mark": {"type": "text", "align": "left", "baseline": "middle", "fontSize": 15.5, "fontStyle": "italic"}, "encoding": {"x": {"field": "x", "type": "quantitative"}, "y": {"field": "y", "type": "quantitative"}, "text": {"field": "text"}}},
 {"data": {"name": "notes"}, "transform": [{"filter": "datum.panel === 'A' && datum.kind === 'head'"}], "mark": {"type": "text", "align": "left", "baseline": "middle", "fontSize": 13}, "encoding": {"x": {"field": "x", "type": "quantitative"}, "y": {"field": "y", "type": "quantitative"}, "text": {"field": "text"}}},
 {"data": {"name": "risk"}, "transform": [{"filter": "datum.panel === 'A'"}], "mark": {"type": "text", "align": "left", "baseline": "middle", "fontSize": 12, "dx": 1}, "encoding": {"x": {"field": "t", "type": "quantitative"}, "y": {"field": "y", "type": "quantitative"}, "text": {"field": "n"}}}
]},
{"width": 389, "height": 319, "layer": [
 {"data": {"name": "curves"}, "transform": [{"filter": "datum.panel === 'B'"}], "mark": {"type": "line", "strokeWidth": 2.4},
  "encoding": {"x": {"field": "t", "type": "quantitative", "scale": {"domain": [-0.4, 10.4], "nice": false, "zero": false}, "axis": {"values": [0,1,2,3,4,5,6,7,8,9,10], "tickCount": 30, "format": "d", "labelOverlap": false, "title": "Years"}},
   "y": {"field": "v", "type": "quantitative", "scale": {"domain": [-0.04, 1.04], "nice": false, "zero": false}, "axis": {"values": [0,0.2,0.4,0.6,0.8,1], "tickCount": 30, "labelOverlap": false, "format": ".1f", "title": "Survival Probability"}},
   "color": {"field": "group", "type": "nominal", "scale": {"domain": ["BM without ATG", "PB with ATG"], "range": ["#000000", "#ee1111"]}, "legend": {"orient": "none", "legendX": 246, "legendY": 10, "title": null}},
   "strokeDash": {"field": "group", "type": "nominal", "scale": {"domain": ["BM without ATG", "PB with ATG"], "range": [[1, 0], [10, 6]]}, "legend": {"orient": "none", "legendX": 246, "legendY": 10, "title": null}}}},
 {"mark": {"type": "rule", "strokeWidth": 1.2, "color": "#000000"}, "encoding": {"x": {"datum": 0, "type": "quantitative"}, "x2": {"datum": 10}, "y": {"datum": -0.04, "type": "quantitative"}}},
 {"mark": {"type": "rule", "strokeWidth": 1.2, "color": "#000000"}, "encoding": {"x": {"datum": -0.4, "type": "quantitative"}, "y": {"datum": 0, "type": "quantitative"}, "y2": {"datum": 1}}},
 {"data": {"name": "notes"}, "transform": [{"filter": "datum.panel === 'B' && datum.kind === 'title'"}], "mark": {"type": "text", "align": "center", "baseline": "middle", "fontSize": 16, "fontWeight": "bold"}, "encoding": {"x": {"field": "x", "type": "quantitative"}, "y": {"field": "y", "type": "quantitative"}, "text": {"field": "text"}}},
 {"data": {"name": "notes"}, "transform": [{"filter": "datum.panel === 'B' && datum.kind === 'letter'"}], "mark": {"type": "text", "align": "left", "baseline": "middle", "fontSize": 20, "fontWeight": "bold", "font": "Liberation Sans Narrow, DejaVu Sans Condensed, Liberation Sans", "color": "#15857c"}, "encoding": {"x": {"field": "x", "type": "quantitative"}, "y": {"field": "y", "type": "quantitative"}, "text": {"field": "text"}}},
 {"data": {"name": "notes"}, "transform": [{"filter": "datum.panel === 'B' && datum.kind === 'note'"}], "mark": {"type": "text", "align": "left", "baseline": "middle", "fontSize": 15.5}, "encoding": {"x": {"field": "x", "type": "quantitative"}, "y": {"field": "y", "type": "quantitative"}, "text": {"field": "text"}}},
 {"data": {"name": "notes"}, "transform": [{"filter": "datum.panel === 'B' && datum.kind === 'p'"}], "mark": {"type": "text", "align": "left", "baseline": "middle", "fontSize": 15.5, "fontStyle": "italic"}, "encoding": {"x": {"field": "x", "type": "quantitative"}, "y": {"field": "y", "type": "quantitative"}, "text": {"field": "text"}}},
 {"data": {"name": "notes"}, "transform": [{"filter": "datum.panel === 'B' && datum.kind === 'head'"}], "mark": {"type": "text", "align": "left", "baseline": "middle", "fontSize": 13}, "encoding": {"x": {"field": "x", "type": "quantitative"}, "y": {"field": "y", "type": "quantitative"}, "text": {"field": "text"}}},
 {"data": {"name": "risk"}, "transform": [{"filter": "datum.panel === 'B'"}], "mark": {"type": "text", "align": "left", "baseline": "middle", "fontSize": 12, "dx": 1}, "encoding": {"x": {"field": "t", "type": "quantitative"}, "y": {"field": "y", "type": "quantitative"}, "text": {"field": "n"}}}
]},
{"width": 389, "height": 319, "layer": [
 {"data": {"name": "curves"}, "transform": [{"filter": "datum.panel === 'C'"}], "mark": {"type": "line", "strokeWidth": 2.4},
  "encoding": {"x": {"field": "t", "type": "quantitative", "scale": {"domain": [-0.4, 10.4], "nice": false, "zero": false}, "axis": {"values": [0,1,2,3,4,5,6,7,8,9,10], "tickCount": 30, "format": "d", "labelOverlap": false, "title": "Years"}},
   "y": {"field": "v", "type": "quantitative", "scale": {"domain": [-0.04, 1.04], "nice": false, "zero": false}, "axis": {"values": [0,0.2,0.4,0.6,0.8,1], "tickCount": 30, "labelOverlap": false, "format": ".1f", "title": "Cumulative Incidence"}},
   "color": {"field": "group", "type": "nominal", "scale": {"domain": ["BM without ATG", "PB with ATG"], "range": ["#000000", "#ee1111"]}, "legend": {"orient": "none", "legendX": 246, "legendY": 280, "title": null}},
   "strokeDash": {"field": "group", "type": "nominal", "scale": {"domain": ["BM without ATG", "PB with ATG"], "range": [[1, 0], [10, 6]]}, "legend": {"orient": "none", "legendX": 246, "legendY": 280, "title": null}}}},
 {"mark": {"type": "rule", "strokeWidth": 1.2, "color": "#000000"}, "encoding": {"x": {"datum": 0, "type": "quantitative"}, "x2": {"datum": 10}, "y": {"datum": -0.04, "type": "quantitative"}}},
 {"mark": {"type": "rule", "strokeWidth": 1.2, "color": "#000000"}, "encoding": {"x": {"datum": -0.4, "type": "quantitative"}, "y": {"datum": 0, "type": "quantitative"}, "y2": {"datum": 1}}},
 {"data": {"name": "notes"}, "transform": [{"filter": "datum.panel === 'C' && datum.kind === 'title'"}], "mark": {"type": "text", "align": "center", "baseline": "middle", "fontSize": 16, "fontWeight": "bold"}, "encoding": {"x": {"field": "x", "type": "quantitative"}, "y": {"field": "y", "type": "quantitative"}, "text": {"field": "text"}}},
 {"data": {"name": "notes"}, "transform": [{"filter": "datum.panel === 'C' && datum.kind === 'letter'"}], "mark": {"type": "text", "align": "left", "baseline": "middle", "fontSize": 20, "fontWeight": "bold", "font": "Liberation Sans Narrow, DejaVu Sans Condensed, Liberation Sans", "color": "#15857c"}, "encoding": {"x": {"field": "x", "type": "quantitative"}, "y": {"field": "y", "type": "quantitative"}, "text": {"field": "text"}}},
 {"data": {"name": "notes"}, "transform": [{"filter": "datum.panel === 'C' && datum.kind === 'note'"}], "mark": {"type": "text", "align": "left", "baseline": "middle", "fontSize": 15.5}, "encoding": {"x": {"field": "x", "type": "quantitative"}, "y": {"field": "y", "type": "quantitative"}, "text": {"field": "text"}}},
 {"data": {"name": "notes"}, "transform": [{"filter": "datum.panel === 'C' && datum.kind === 'p'"}], "mark": {"type": "text", "align": "left", "baseline": "middle", "fontSize": 15.5, "fontStyle": "italic"}, "encoding": {"x": {"field": "x", "type": "quantitative"}, "y": {"field": "y", "type": "quantitative"}, "text": {"field": "text"}}},
 {"data": {"name": "notes"}, "transform": [{"filter": "datum.panel === 'C' && datum.kind === 'head'"}], "mark": {"type": "text", "align": "left", "baseline": "middle", "fontSize": 13}, "encoding": {"x": {"field": "x", "type": "quantitative"}, "y": {"field": "y", "type": "quantitative"}, "text": {"field": "text"}}},
 {"data": {"name": "risk"}, "transform": [{"filter": "datum.panel === 'C'"}], "mark": {"type": "text", "align": "left", "baseline": "middle", "fontSize": 12, "dx": 1}, "encoding": {"x": {"field": "t", "type": "quantitative"}, "y": {"field": "y", "type": "quantitative"}, "text": {"field": "n"}}}
]},
{"width": 389, "height": 319, "layer": [
 {"data": {"name": "curves"}, "transform": [{"filter": "datum.panel === 'D'"}], "mark": {"type": "line", "strokeWidth": 2.4},
  "encoding": {"x": {"field": "t", "type": "quantitative", "scale": {"domain": [-0.4, 10.4], "nice": false, "zero": false}, "axis": {"values": [0,1,2,3,4,5,6,7,8,9,10], "tickCount": 30, "format": "d", "labelOverlap": false, "title": "Years"}},
   "y": {"field": "v", "type": "quantitative", "scale": {"domain": [-0.04, 1.04], "nice": false, "zero": false}, "axis": {"values": [0,0.2,0.4,0.6,0.8,1], "tickCount": 30, "labelOverlap": false, "format": ".1f", "title": "Cumulative Incidence"}},
   "color": {"field": "group", "type": "nominal", "scale": {"domain": ["BM without ATG", "PB with ATG"], "range": ["#000000", "#ee1111"]}, "legend": {"orient": "none", "legendX": 246, "legendY": 280, "title": null}},
   "strokeDash": {"field": "group", "type": "nominal", "scale": {"domain": ["BM without ATG", "PB with ATG"], "range": [[1, 0], [10, 6]]}, "legend": {"orient": "none", "legendX": 246, "legendY": 280, "title": null}}}},
 {"mark": {"type": "rule", "strokeWidth": 1.2, "color": "#000000"}, "encoding": {"x": {"datum": 0, "type": "quantitative"}, "x2": {"datum": 10}, "y": {"datum": -0.04, "type": "quantitative"}}},
 {"mark": {"type": "rule", "strokeWidth": 1.2, "color": "#000000"}, "encoding": {"x": {"datum": -0.4, "type": "quantitative"}, "y": {"datum": 0, "type": "quantitative"}, "y2": {"datum": 1}}},
 {"data": {"name": "notes"}, "transform": [{"filter": "datum.panel === 'D' && datum.kind === 'title'"}], "mark": {"type": "text", "align": "center", "baseline": "middle", "fontSize": 16, "fontWeight": "bold"}, "encoding": {"x": {"field": "x", "type": "quantitative"}, "y": {"field": "y", "type": "quantitative"}, "text": {"field": "text"}}},
 {"data": {"name": "notes"}, "transform": [{"filter": "datum.panel === 'D' && datum.kind === 'letter'"}], "mark": {"type": "text", "align": "left", "baseline": "middle", "fontSize": 20, "fontWeight": "bold", "font": "Liberation Sans Narrow, DejaVu Sans Condensed, Liberation Sans", "color": "#15857c"}, "encoding": {"x": {"field": "x", "type": "quantitative"}, "y": {"field": "y", "type": "quantitative"}, "text": {"field": "text"}}},
 {"data": {"name": "notes"}, "transform": [{"filter": "datum.panel === 'D' && datum.kind === 'note'"}], "mark": {"type": "text", "align": "left", "baseline": "middle", "fontSize": 15.5}, "encoding": {"x": {"field": "x", "type": "quantitative"}, "y": {"field": "y", "type": "quantitative"}, "text": {"field": "text"}}},
 {"data": {"name": "notes"}, "transform": [{"filter": "datum.panel === 'D' && datum.kind === 'p'"}], "mark": {"type": "text", "align": "left", "baseline": "middle", "fontSize": 15.5, "fontStyle": "italic"}, "encoding": {"x": {"field": "x", "type": "quantitative"}, "y": {"field": "y", "type": "quantitative"}, "text": {"field": "text"}}},
 {"data": {"name": "notes"}, "transform": [{"filter": "datum.panel === 'D' && datum.kind === 'head'"}], "mark": {"type": "text", "align": "left", "baseline": "middle", "fontSize": 13}, "encoding": {"x": {"field": "x", "type": "quantitative"}, "y": {"field": "y", "type": "quantitative"}, "text": {"field": "text"}}},
 {"data": {"name": "risk"}, "transform": [{"filter": "datum.panel === 'D'"}], "mark": {"type": "text", "align": "left", "baseline": "middle", "fontSize": 12, "dx": 1}, "encoding": {"x": {"field": "t", "type": "quantitative"}, "y": {"field": "y", "type": "quantitative"}, "text": {"field": "n"}}}
]},
{"width": 389, "height": 319, "layer": [
 {"data": {"name": "curves"}, "transform": [{"filter": "datum.panel === 'E'"}], "mark": {"type": "line", "strokeWidth": 2.4},
  "encoding": {"x": {"field": "t", "type": "quantitative", "scale": {"domain": [-0.4, 10.4], "nice": false, "zero": false}, "axis": {"values": [0,1,2,3,4,5,6,7,8,9,10], "tickCount": 30, "format": "d", "labelOverlap": false, "title": "Years"}},
   "y": {"field": "v", "type": "quantitative", "scale": {"domain": [-0.04, 1.04], "nice": false, "zero": false}, "axis": {"values": [0,0.2,0.4,0.6,0.8,1], "tickCount": 30, "labelOverlap": false, "format": ".1f", "title": "Cumulative Incidence"}},
   "color": {"field": "group", "type": "nominal", "scale": {"domain": ["BM without ATG", "PB with ATG"], "range": ["#000000", "#ee1111"]}, "legend": {"orient": "none", "legendX": 246, "legendY": 279.5, "title": null}},
   "strokeDash": {"field": "group", "type": "nominal", "scale": {"domain": ["BM without ATG", "PB with ATG"], "range": [[1, 0], [10, 6]]}, "legend": {"orient": "none", "legendX": 246, "legendY": 279.5, "title": null}}}},
 {"mark": {"type": "rule", "strokeWidth": 1.2, "color": "#000000"}, "encoding": {"x": {"datum": 0, "type": "quantitative"}, "x2": {"datum": 10}, "y": {"datum": -0.04, "type": "quantitative"}}},
 {"mark": {"type": "rule", "strokeWidth": 1.2, "color": "#000000"}, "encoding": {"x": {"datum": -0.4, "type": "quantitative"}, "y": {"datum": 0, "type": "quantitative"}, "y2": {"datum": 1}}},
 {"data": {"name": "notes"}, "transform": [{"filter": "datum.panel === 'E' && datum.kind === 'title'"}], "mark": {"type": "text", "align": "center", "baseline": "middle", "fontSize": 16, "fontWeight": "bold"}, "encoding": {"x": {"field": "x", "type": "quantitative"}, "y": {"field": "y", "type": "quantitative"}, "text": {"field": "text"}}},
 {"data": {"name": "notes"}, "transform": [{"filter": "datum.panel === 'E' && datum.kind === 'letter'"}], "mark": {"type": "text", "align": "left", "baseline": "middle", "fontSize": 20, "fontWeight": "bold", "font": "Liberation Sans Narrow, DejaVu Sans Condensed, Liberation Sans", "color": "#15857c"}, "encoding": {"x": {"field": "x", "type": "quantitative"}, "y": {"field": "y", "type": "quantitative"}, "text": {"field": "text"}}},
 {"data": {"name": "notes"}, "transform": [{"filter": "datum.panel === 'E' && datum.kind === 'note'"}], "mark": {"type": "text", "align": "left", "baseline": "middle", "fontSize": 15.5}, "encoding": {"x": {"field": "x", "type": "quantitative"}, "y": {"field": "y", "type": "quantitative"}, "text": {"field": "text"}}},
 {"data": {"name": "notes"}, "transform": [{"filter": "datum.panel === 'E' && datum.kind === 'p'"}], "mark": {"type": "text", "align": "left", "baseline": "middle", "fontSize": 15.5, "fontStyle": "italic"}, "encoding": {"x": {"field": "x", "type": "quantitative"}, "y": {"field": "y", "type": "quantitative"}, "text": {"field": "text"}}},
 {"data": {"name": "notes"}, "transform": [{"filter": "datum.panel === 'E' && datum.kind === 'head'"}], "mark": {"type": "text", "align": "left", "baseline": "middle", "fontSize": 13}, "encoding": {"x": {"field": "x", "type": "quantitative"}, "y": {"field": "y", "type": "quantitative"}, "text": {"field": "text"}}},
 {"data": {"name": "risk"}, "transform": [{"filter": "datum.panel === 'E'"}], "mark": {"type": "text", "align": "left", "baseline": "middle", "fontSize": 12, "dx": 1}, "encoding": {"x": {"field": "t", "type": "quantitative"}, "y": {"field": "y", "type": "quantitative"}, "text": {"field": "n"}}}
]},
{"width": 389, "height": 319, "layer": [
 {"data": {"name": "curves"}, "transform": [{"filter": "datum.panel === 'F'"}], "mark": {"type": "line", "strokeWidth": 2.4},
  "encoding": {"x": {"field": "t", "type": "quantitative", "scale": {"domain": [-0.4, 10.4], "nice": false, "zero": false}, "axis": {"values": [0,1,2,3,4,5,6,7,8,9,10], "tickCount": 30, "format": "d", "labelOverlap": false, "title": "Years"}},
   "y": {"field": "v", "type": "quantitative", "scale": {"domain": [-0.04, 1.04], "nice": false, "zero": false}, "axis": {"values": [0,0.2,0.4,0.6,0.8,1], "tickCount": 30, "labelOverlap": false, "format": ".1f", "title": "Survival Probability"}},
   "color": {"field": "group", "type": "nominal", "scale": {"domain": ["BM without ATG", "PB with ATG"], "range": ["#000000", "#ee1111"]}, "legend": {"orient": "none", "legendX": 246, "legendY": 9.5, "title": null}},
   "strokeDash": {"field": "group", "type": "nominal", "scale": {"domain": ["BM without ATG", "PB with ATG"], "range": [[1, 0], [10, 6]]}, "legend": {"orient": "none", "legendX": 246, "legendY": 9.5, "title": null}}}},
 {"mark": {"type": "rule", "strokeWidth": 1.2, "color": "#000000"}, "encoding": {"x": {"datum": 0, "type": "quantitative"}, "x2": {"datum": 10}, "y": {"datum": -0.04, "type": "quantitative"}}},
 {"mark": {"type": "rule", "strokeWidth": 1.2, "color": "#000000"}, "encoding": {"x": {"datum": -0.4, "type": "quantitative"}, "y": {"datum": 0, "type": "quantitative"}, "y2": {"datum": 1}}},
 {"data": {"name": "notes"}, "transform": [{"filter": "datum.panel === 'F' && datum.kind === 'title'"}], "mark": {"type": "text", "align": "center", "baseline": "middle", "fontSize": 16, "fontWeight": "bold"}, "encoding": {"x": {"field": "x", "type": "quantitative"}, "y": {"field": "y", "type": "quantitative"}, "text": {"field": "text"}}},
 {"data": {"name": "notes"}, "transform": [{"filter": "datum.panel === 'F' && datum.kind === 'letter'"}], "mark": {"type": "text", "align": "left", "baseline": "middle", "fontSize": 20, "fontWeight": "bold", "font": "Liberation Sans Narrow, DejaVu Sans Condensed, Liberation Sans", "color": "#15857c"}, "encoding": {"x": {"field": "x", "type": "quantitative"}, "y": {"field": "y", "type": "quantitative"}, "text": {"field": "text"}}},
 {"data": {"name": "notes"}, "transform": [{"filter": "datum.panel === 'F' && datum.kind === 'note'"}], "mark": {"type": "text", "align": "left", "baseline": "middle", "fontSize": 15.5}, "encoding": {"x": {"field": "x", "type": "quantitative"}, "y": {"field": "y", "type": "quantitative"}, "text": {"field": "text"}}},
 {"data": {"name": "notes"}, "transform": [{"filter": "datum.panel === 'F' && datum.kind === 'p'"}], "mark": {"type": "text", "align": "left", "baseline": "middle", "fontSize": 15.5, "fontStyle": "italic"}, "encoding": {"x": {"field": "x", "type": "quantitative"}, "y": {"field": "y", "type": "quantitative"}, "text": {"field": "text"}}},
 {"data": {"name": "notes"}, "transform": [{"filter": "datum.panel === 'F' && datum.kind === 'head'"}], "mark": {"type": "text", "align": "left", "baseline": "middle", "fontSize": 13}, "encoding": {"x": {"field": "x", "type": "quantitative"}, "y": {"field": "y", "type": "quantitative"}, "text": {"field": "text"}}},
 {"data": {"name": "risk"}, "transform": [{"filter": "datum.panel === 'F'"}], "mark": {"type": "text", "align": "left", "baseline": "middle", "fontSize": 12, "dx": 1}, "encoding": {"x": {"field": "t", "type": "quantitative"}, "y": {"field": "y", "type": "quantitative"}, "text": {"field": "n"}}}
]}
],
"config": {
 "view": {"stroke": null},
 "font": "Liberation Sans",
 "text": {"font": "Liberation Sans", "color": "#000000"},
 "axis": {"grid": false, "domain": false, "ticks": true, "tickColor": "#000000", "tickSize": 4, "tickWidth": 1.2, "labelColor": "#000000", "labelFont": "Liberation Sans", "labelFontSize": 13.5, "titleColor": "#000000", "titleFont": "Liberation Sans", "titleFontWeight": "normal", "labelFlush": false, "labelOverlap": false, "labelPadding": 2},
 "axisX": {"titleFontSize": 14, "titlePadding": 4.5, "tickCount": 30, "format": "d"},
 "axisY": {"labelAngle": -90, "labelAlign": "center", "labelBaseline": "bottom", "titleFontSize": 13.5, "titlePadding": 5.4, "tickCount": 30, "format": ".1f"},
 "legend": {"labelFont": "Liberation Sans", "labelFontSize": 13.5, "labelColor": "#000000", "symbolType": "M-2,0L2,0", "symbolSize": 169, "symbolStrokeWidth": 2.4, "symbolOffset": 5, "labelOffset": 16, "rowPadding": 1.5, "padding": 0}
}
}
